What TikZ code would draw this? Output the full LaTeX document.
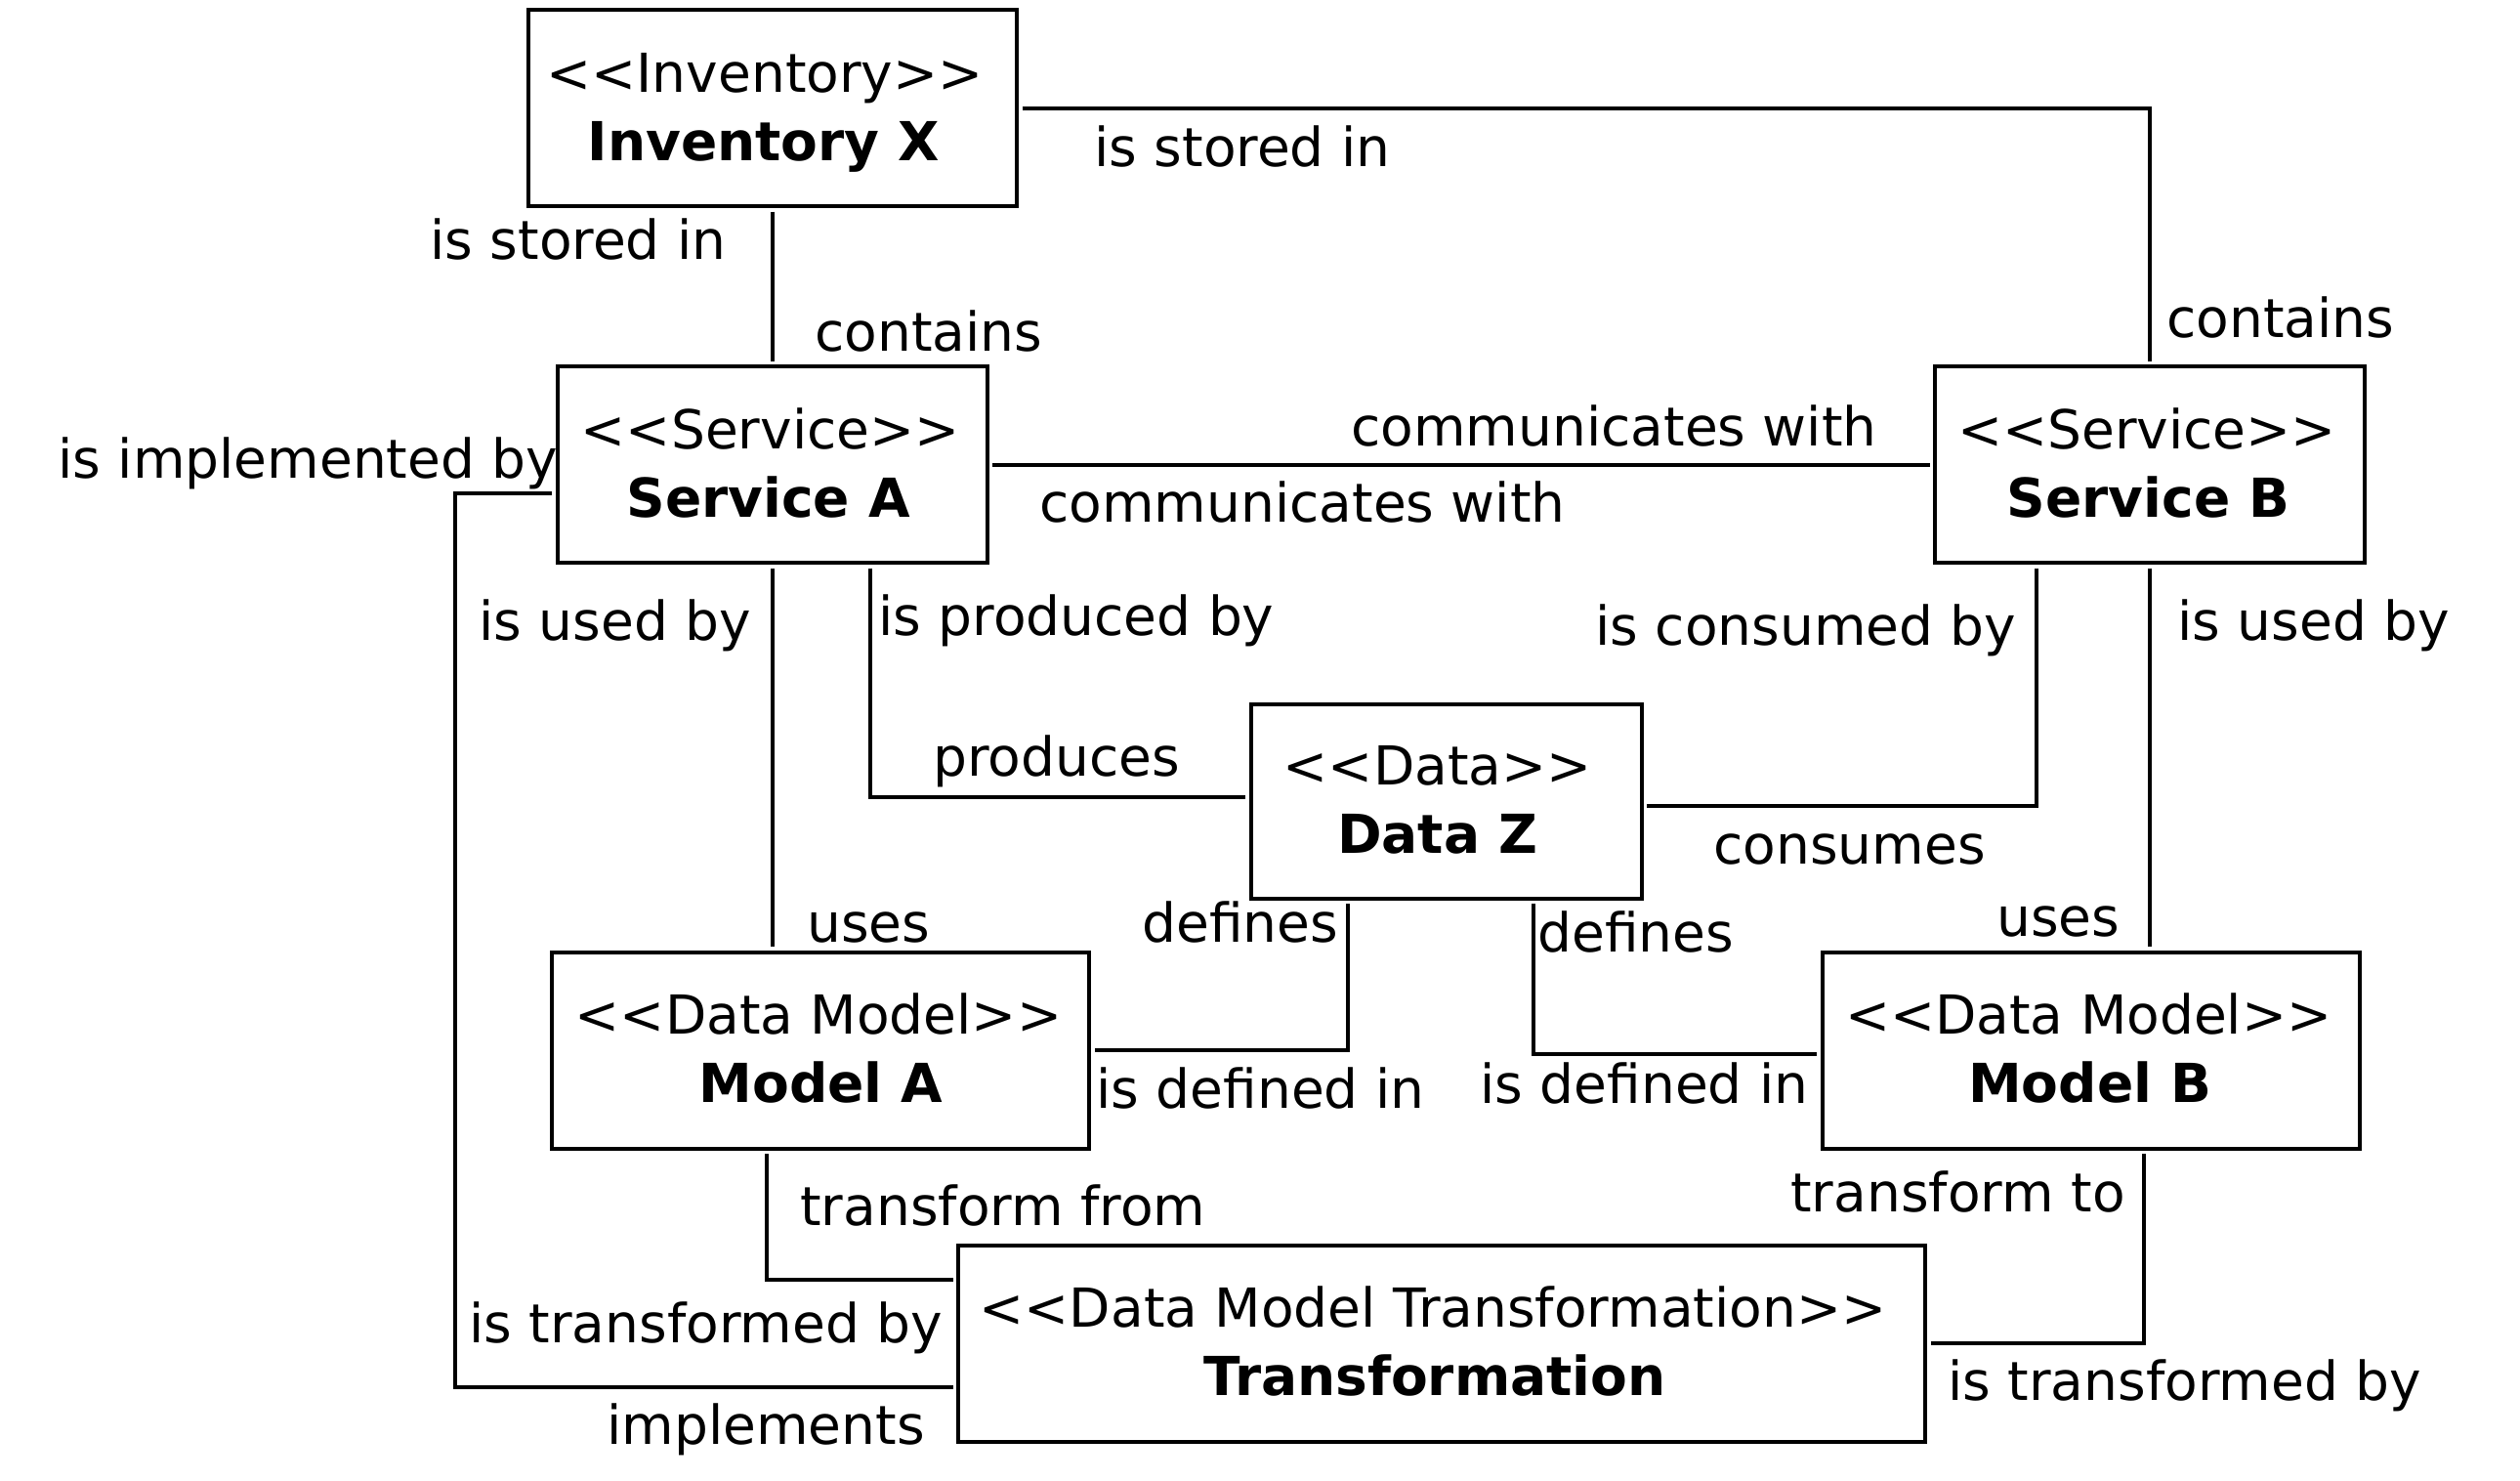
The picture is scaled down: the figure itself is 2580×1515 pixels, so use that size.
\documentclass[tikz,border=0pt]{standalone}
\usepackage{fontspec}
\setmainfont{DejaVu Sans}
\usetikzlibrary{calc}
\newcommand\sopen{<\kern0pt<}
\newcommand\sclose{>\kern0pt>}
\begin{document}
\begin{tikzpicture}[x=0.5pt,y=-0.5pt,
  every node/.style={font=\fontsize{27.5pt}{35pt}\selectfont},
  box/.style={draw, line width=2pt, rectangle, inner sep=0pt, outer sep=2.75pt, minimum height=100.5pt},
  conn/.style={line width=2pt, line join=miter},
  lbl/.style={anchor=base west, inner sep=0pt},
  stereo/.style={anchor=base, inner sep=0pt},
  ttl/.style={anchor=base, inner sep=0pt, font=\fontsize{27.5pt}{35pt}\selectfont\bfseries}]
\useasboundingbox (0,0) rectangle (2580,1515);

% boxes
\node[box, minimum width=250pt] (inv) at (791,110.5) {};
\node[box, minimum width=220pt] (sa) at (790.7,475.5) {};
\node[box, minimum width=220pt] (sb) at (2201,475.5) {};
\node[box, minimum width=200pt, minimum height=99.5pt] (dz) at (1480.7,820.3) {};
\node[box, minimum width=275pt] (ma) at (840.4,1075.2) {};
\node[box, minimum width=275pt] (mb) at (2140.7,1075.2) {};
\node[box, minimum width=495pt] (tr) at (1476,1375.4) {};

% box texts
\node[stereo] (invs) at ($(inv.center)+(-8,-16.5)$) {\sopen Inventory\sclose};
\node[ttl] (invt) at ($(inv.center)+(-9,53.5)$) {Inventory X};
\node[stereo] (sas) at ($(sa.center)+(-2,-16.5)$) {\sopen Service\sclose};
\node[ttl] (sat) at ($(sa.center)+(-4,53.5)$) {Service A};
\node[stereo] (sbs) at ($(sb.center)+(-3,-16.5)$) {\sopen Service\sclose};
\node[ttl] (sbt) at ($(sb.center)+(-1.5,53.5)$) {Service B};
\node[stereo] (dzs) at ($(dz.center)+(-9,-16.5)$) {\sopen Data\sclose};
\node[ttl] (dzt) at ($(dz.center)+(-9,53.5)$) {Data Z};
\node[stereo] (mas) at ($(ma.center)+(-2.4,-16.5)$) {\sopen Data Model\sclose};
\node[ttl] (mat) at ($(ma.center)+(0,53.5)$) {Model A};
\node[stereo] (mbs) at ($(mb.center)+(-2.5,-16.5)$) {\sopen Data Model\sclose};
\node[ttl] (mbt) at ($(mb.center)+(-1,53.5)$) {Model B};
\node[stereo] (trs) at ($(tr.center)+(-9,-16.5)$) {\sopen Data Model Transformation\sclose};
\node[ttl] (trt) at ($(tr.center)+(-7,53.5)$) {Transformation};

% connectors
\draw[conn] (inv.south) -- (inv.south |- sa.north);
\draw[conn] (inv.east) -| (sb.north);
\draw[conn] (sa.east) -- (sb.west);
\draw[conn] (sa.south) -- (sa.south |- ma.north);
\draw[conn] ($(sa.south)+(100.7,0)$) |- ($(dz.west)+(0,-4.7)$);
\draw[conn] ($(sb.south)+(-116,0)$) |- ($(dz.east)+(0,5)$);
\draw[conn] (sb.south) -- (sb.south |- mb.north);
\draw[conn] ($(dz.south)+(-101,0)$) |- (ma.east);
\draw[conn] ($(dz.south)+(89.3,0)$) |- ($(mb.west)+(0,3.6)$);
\draw[conn] ($(ma.south)+(-55,0)$) |- ($(tr.west)+(0,-65)$);
\draw[conn] ($(mb.south)+(54.7,0)$) |- (tr.east);
\draw[conn] ($(sa.west)+(0,29.5)$) -- ++(-99.5,0) |- ($(tr.west)+(0,44.6)$);

% labels
\node[lbl] (l1) at (440,265) {is stored in};
\node[lbl] (l2) at (1120,170.5) {is stored in};
\node[lbl] (l3) at (834,359.5) {contains};
\node[lbl] (l4) at (2218,345) {contains};
\node[lbl] (l5) at (59,489.5) {is implemented by};
\node[lbl] (l6) at (1383,456.5) {communicates with};
\node[lbl] (l7) at (1064,534) {communicates with};
\node[lbl] (l8) at (490,655) {is used by};
\node[lbl] (l9) at (899,650.5) {is produced by};
\node[lbl] (l10) at (1633,660) {is consumed by};
\node[lbl] (l11) at (2229,655) {is used by};
\node[lbl] (l12) at (955,794.5) {produces};
\node[lbl] (l13) at (1754,884.5) {consumes};
\node[lbl] (l14) at (826,964) {uses};
\node[lbl] (l15) at (1169,964) {defines};
\node[lbl] (l16) at (1574,974) {defines};
\node[lbl] (l17) at (2044,958.5) {uses};
\node[lbl] (l18) at (1122,1134) {is defined in};
\node[lbl] (l19) at (1515,1129) {is defined in};
\node[lbl] (l20) at (819,1254) {transform from};
\node[lbl] (l21) at (1833,1240.5) {transform to};
\node[lbl] (l22) at (480,1374) {is transformed by};
\node[lbl] (l23) at (1994,1433.5) {is transformed by};
\node[lbl] (l24) at (621,1478) {implements};
\end{tikzpicture}
\end{document}
